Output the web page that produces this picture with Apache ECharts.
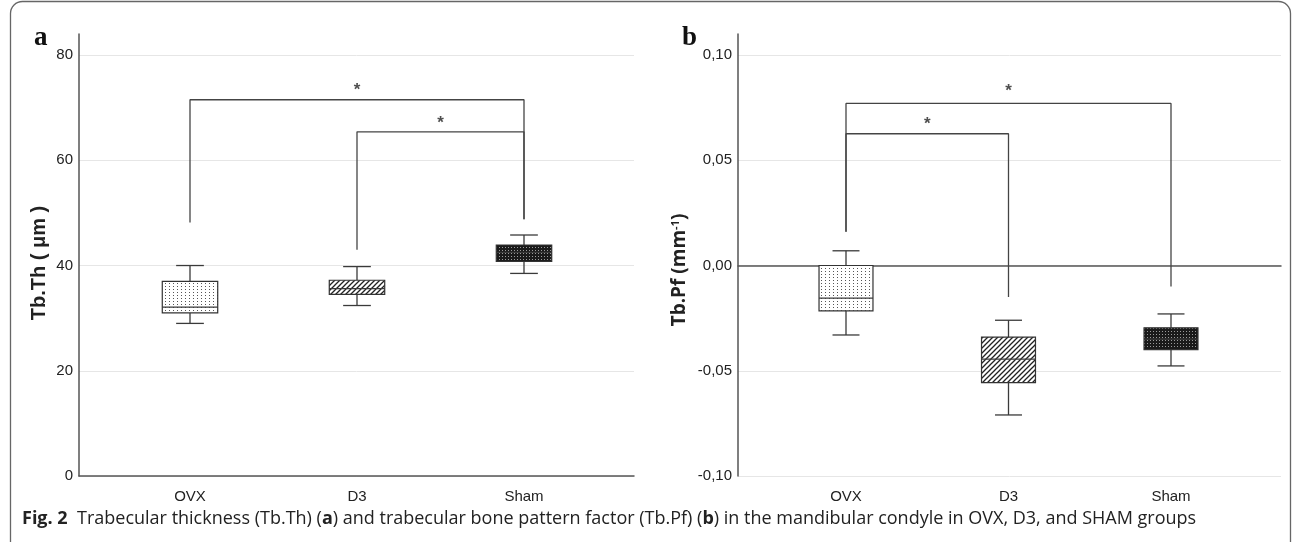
<!DOCTYPE html>
<html>
<head>
<meta charset="utf-8">
<script src="https://cdn.jsdelivr.net/npm/echarts@6/dist/echarts.min.js"></script>
<style>
  html, body { margin: 0; padding: 0; background: #fff; }
  #chart { width: 1295px; height: 542px; }
</style>
</head>
<body>
<div id="chart"></div>
<script>
const groups = ['OVX', 'D3', 'Sham']

// box stats per group: [min, q1, median, q3, max]
const thicknessBoxes = [
  [29.0, 31.0, 32.1, 37.0, 40.0],
  [32.4, 34.5, 35.6, 37.2, 39.8],
  [38.5, 40.8, 42.5, 43.9, 45.8]
]
const patternBoxes = [
  [-0.033, -0.0215, -0.0155, 0.000, 0.007],
  [-0.071, -0.0556, -0.0445, -0.034, -0.026],
  [-0.0477, -0.040, -0.035, -0.0296, -0.023]
]

// significance brackets, [group position, value]
const thicknessBracketOuter = [[0, 48.2], [0, 71.5], [2, 71.5], [2, 48.8]]
const thicknessBracketInner = [[1, 43.0], [1, 65.4], [2, 65.4], [2, 48.8]]
const thicknessStars = [[1, 74.0], [1.5, 67.8]]
const patternBracketOuter = [[0, 0.016], [0, 0.077], [2, 0.077], [2, -0.010]]
const patternBracketInner = [[0, 0.016], [0, 0.0626], [1, 0.0626], [1, -0.015]]
const patternStars = [[1, 0.0847], [0.5, 0.0692]]

const thicknessTicks = [0, 20, 40, 60, 80]
const patternTicks = [-0.10, -0.05, 0.00, 0.05, 0.10]

const sansFont = "'Liberation Sans', Arial, sans-serif"

const makePattern = (w, h, draw) => {
  const c = document.createElement('canvas')
  c.width = w
  c.height = h
  draw(c.getContext('2d'))
  return { image: c, repeat: 'repeat' }
}

const dotFill = makePattern(4, 3, ctx => {
  ctx.fillStyle = '#fff'
  ctx.fillRect(0, 0, 4, 3)
  ctx.fillStyle = '#555'
  ctx.fillRect(1, 1, 1, 1)
})
const hatchFill = makePattern(5, 5, ctx => {
  ctx.fillStyle = '#fff'
  ctx.fillRect(0, 0, 5, 5)
  ctx.strokeStyle = '#222'
  ctx.lineWidth = 1.3
  ctx.beginPath()
  ctx.moveTo(-1, 6); ctx.lineTo(6, -1)
  ctx.moveTo(-1, 1); ctx.lineTo(1, -1)
  ctx.moveTo(4, 6); ctx.lineTo(6, 4)
  ctx.stroke()
})
const darkFill = makePattern(3, 3, ctx => {
  ctx.fillStyle = '#1a1a1a'
  ctx.fillRect(0, 0, 3, 3)
  ctx.fillStyle = '#9a9a9a'
  ctx.fillRect(1, 1, 1, 1)
})
const boxFills = [dotFill, hatchFill, darkFill]

const renderBox = (params, api) => {
  const pos = api.value(0)
  const [cx, yMin] = api.coord([pos, api.value(1)])
  const yQ1 = api.coord([pos, api.value(2)])[1]
  const yMed = api.coord([pos, api.value(3)])[1]
  const yQ3 = api.coord([pos, api.value(4)])[1]
  const yMax = api.coord([pos, api.value(5)])[1]
  const half = api.size([1, 0])[0] * 0.166
  const cap = half * 0.5
  const line = { stroke: '#3a3a3a', lineWidth: 1.3 }
  return {
    type: 'group',
    children: [
      { type: 'line', shape: { x1: cx, y1: yMax, x2: cx, y2: yQ3 }, style: line },
      { type: 'line', shape: { x1: cx, y1: yQ1, x2: cx, y2: yMin }, style: line },
      { type: 'line', shape: { x1: cx - cap, y1: yMax, x2: cx + cap, y2: yMax }, style: line },
      { type: 'line', shape: { x1: cx - cap, y1: yMin, x2: cx + cap, y2: yMin }, style: line },
      {
        type: 'rect',
        shape: { x: cx - half, y: yQ3, width: half * 2, height: yQ1 - yQ3 },
        style: { fill: boxFills[params.dataIndex], stroke: '#333', lineWidth: 1.2 }
      },
      { type: 'line', shape: { x1: cx - half, y1: yMed, x2: cx + half, y2: yMed }, style: line }
    ]
  }
}

const hasTick = (ticks, v) => ticks.some(t => Math.abs(t - v) < 1e-9)

// axis-only grid (lines, y labels, split lines)
const frameX = gridIndex => ({
  gridIndex,
  type: 'value',
  min: 0,
  max: 1,
  axisLine: { show: true, onZero: true, lineStyle: { color: '#555', width: 1.5 } },
  axisTick: { show: false },
  axisLabel: { show: false },
  splitLine: { show: false }
})
const groupX = gridIndex => ({
  gridIndex,
  type: 'category',
  data: groups,
  axisLine: { show: false, onZero: false },
  axisTick: { show: false },
  axisLabel: { color: '#222', fontSize: 15, fontFamily: sansFont, margin: 13 }
})
const markX = gridIndex => ({
  gridIndex,
  type: 'value',
  show: false,
  min: -0.5,
  max: 2.5
})

const frameY = (gridIndex, ticks, max, fmt, name, nameGap, nameStyle) => ({
  gridIndex,
  type: 'value',
  min: ticks[0],
  max,
  interval: ticks[1] - ticks[0],
  axisLine: { show: true, lineStyle: { color: '#555', width: 1.5 } },
  axisTick: { show: false },
  axisLabel: {
    margin: 6,
    color: '#222',
    fontSize: 15,
    fontFamily: sansFont,
    formatter: v => hasTick(ticks, v) ? fmt(v) : ''
  },
  splitLine: { show: true, showMaxLine: false, lineStyle: { color: '#e6e6e6', width: 1 } },
  name,
  nameLocation: 'middle',
  nameGap,
  nameTextStyle: nameStyle
})
const dataY = (gridIndex, min, max) => ({
  gridIndex,
  type: 'value',
  show: false,
  min,
  max
})

const bracket = (data, xi, yi) => ({
  type: 'line',
  xAxisIndex: xi,
  yAxisIndex: yi,
  data,
  symbol: 'none',
  silent: true,
  lineStyle: { color: '#444', width: 1.3 }
})
const stars = (data, xi, yi) => ({
  type: 'scatter',
  xAxisIndex: xi,
  yAxisIndex: yi,
  data,
  symbolSize: 1,
  silent: true,
  itemStyle: { color: 'rgba(0,0,0,0)' },
  label: {
    show: true,
    position: 'inside',
    formatter: '*',
    fontSize: 17,
    fontWeight: 'bold',
    fontFamily: sansFont,
    color: '#222',
    offset: [0, 4]
  }
})

const chart = echarts.init(document.getElementById('chart'))

chart.setOption({
  animation: false,
  grid: [
    { left: 79, top: 34, width: 555, height: 442 },
    { left: 106.5, top: 34, width: 501, height: 442 },
    { left: 738, top: 34, width: 543, height: 442 },
    { left: 764.75, top: 34, width: 487.5, height: 442 }
  ],
  xAxis: [frameX(0), groupX(1), markX(1), frameX(2), groupX(3), markX(3)],
  yAxis: [
    frameY(0, thicknessTicks, 84, v => String(v), 'Tb.Th ( μm )', 30, {
      fontSize: 20, fontWeight: 'bold', fontFamily: sansFont, color: '#222', padding: [0, 16, 0, 0]
    }),
    dataY(1, 0, 84),
    frameY(2, patternTicks, 0.11, v => v.toFixed(2).replace('.', ','), 'Tb.Pf (mm{sup|-1})', 49, {
      fontSize: 19, fontWeight: 'bold', fontFamily: "'Open Sans', sans-serif", color: '#222',
      padding: [0, 30, 0, 0],
      rich: {
        sup: { fontSize: 11, fontWeight: 'bold', fontFamily: "'Open Sans', sans-serif", color: '#222', verticalAlign: 'top' }
      }
    }),
    dataY(3, -0.10, 0.11)
  ],
  series: [
    {
      type: 'custom',
      xAxisIndex: 1,
      yAxisIndex: 1,
      renderItem: renderBox,
      encode: { x: 0, y: [1, 2, 3, 4, 5] },
      data: thicknessBoxes.map((b, i) => [i, ...b])
    },
    {
      type: 'custom',
      xAxisIndex: 4,
      yAxisIndex: 3,
      renderItem: renderBox,
      encode: { x: 0, y: [1, 2, 3, 4, 5] },
      data: patternBoxes.map((b, i) => [i, ...b])
    },
    bracket(thicknessBracketOuter, 2, 1),
    bracket(thicknessBracketInner, 2, 1),
    stars(thicknessStars, 2, 1),
    bracket(patternBracketOuter, 5, 3),
    bracket(patternBracketInner, 5, 3),
    stars(patternStars, 5, 3)
  ],
  graphic: [
    {
      type: 'rect',
      silent: true,
      shape: { x: 10.5, y: 1.5, width: 1280, height: 560, r: 12 },
      style: { fill: 'rgba(0,0,0,0)', stroke: '#666', lineWidth: 1.3 }
    },
    {
      type: 'text',
      x: 34, y: 38,
      style: { text: 'a', fontSize: 27, fontWeight: 'bold', fontFamily: "'Liberation Serif', serif", fill: '#111', verticalAlign: 'middle' }
    },
    {
      type: 'text',
      x: 682, y: 38,
      style: { text: 'b', fontSize: 27, fontWeight: 'bold', fontFamily: "'Liberation Serif', serif", fill: '#111', verticalAlign: 'middle' }
    },
    {
      type: 'text',
      x: 22, y: 519,
      style: {
        text: '{b|Fig. 2}  Trabecular thickness (Tb.Th) ({b|a}) and trabecular bone pattern factor (Tb.Pf) ({b|b}) in the mandibular condyle in OVX, D3, and SHAM groups',
        fontSize: 18,
        fontFamily: "'Open Sans', sans-serif",
        fill: '#222',
        verticalAlign: 'middle',
        rich: {
          b: { fontSize: 18, fontWeight: 'bold', fontFamily: "'Open Sans', sans-serif", fill: '#222' }
        }
      }
    }
  ]
})

window.addEventListener('resize', () => chart.resize())
</script>
</body>
</html>
